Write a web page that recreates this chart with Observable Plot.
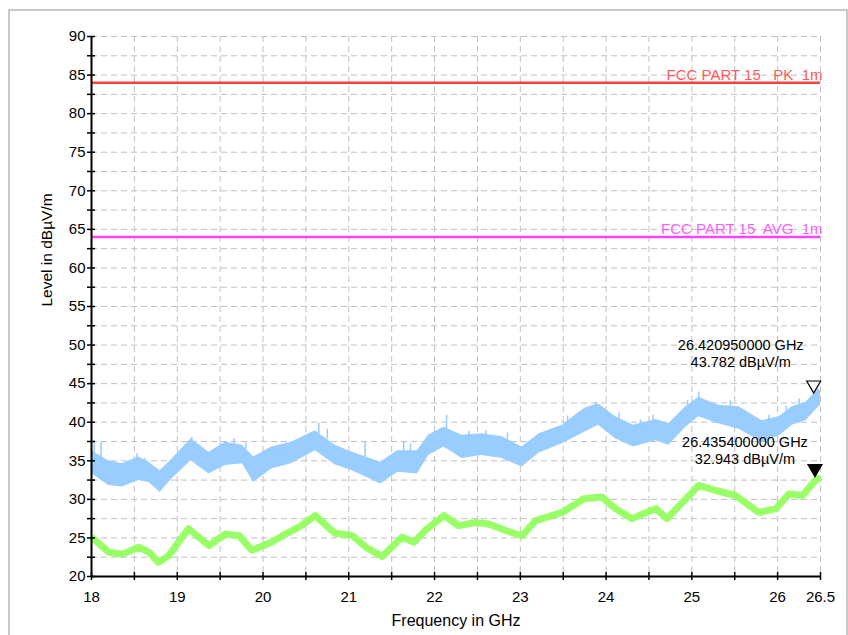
<!DOCTYPE html>
<html><head><meta charset="utf-8">
<script src="https://cdn.jsdelivr.net/npm/d3@7"></script>
<script src="https://cdn.jsdelivr.net/npm/@observablehq/plot@0.6"></script>
<style>
html,body{margin:0;padding:0;background:#fff;}
#frame{position:absolute;left:8px;top:9px;width:836px;height:640px;border:2px solid #c8c8c8;border-bottom:none;}
#chart{position:absolute;left:0;top:0;}
svg text{white-space:pre;}
</style></head><body>
<div id="frame"></div><div id="chart"></div>
<script>
// ---- data ----
const xDomain = [18, 26.5];
const yDomain = [20, 90];
const xGridTicks = [18,18.5,19,19.5,20,20.5,21,21.5,22,22.5,23,23.5,24,24.5,25,25.5,26,26.5];
const xLabelTicks = [18,19,20,21,22,23,24,25,26,26.5];
const yGridTicks = [20,22.5,25,27.5,30,32.5,35,37.5,40,42.5,45,47.5,50,52.5,55,57.5,60,62.5,65,67.5,70,72.5,75,77.5,80,82.5,85,87.5,90];
const yLabelTicks = [20,25,30,35,40,45,50,55,60,65,70,75,80,85,90];
const xTitle = "Frequency in GHz";
const yTitle = "Level in dBµV/m";

// limit lines
const limitNames = ["FCC PART 15   PK  1m", "FCC PART 15  AVG  1m"];
const limitLevels = [84, 64];
const limitColors = ["#ff4040", "#ff44ff"];
const limitTextColors = ["#ff5a5a", "#ff5cff"];

// peak trace (light blue band): frequency, lower and upper envelope
const peakFreq = [18.0,18.2,18.36,18.55,18.67,18.8,18.92,19.16,19.37,19.56,19.76,19.89,20.1,20.33,20.61,20.84,21.04,21.2,21.37,21.57,21.8,21.93,22.11,22.32,22.55,22.79,23.02,23.22,23.49,23.75,23.91,24.11,24.32,24.58,24.73,24.93,25.08,25.31,25.55,25.82,26.02,26.17,26.33,26.48,26.5];
const peakLow  = [33.35,31.8,31.6,32.45,32.2,30.9,32.45,35.0,33.3,34.4,34.6,32.2,33.95,34.6,36.3,34.5,33.7,32.9,32.0,33.5,33.3,35.7,36.8,35.3,35.7,35.3,34.2,36.0,37.2,38.7,39.6,37.85,36.8,37.6,37.0,39.35,40.7,39.8,39.1,37.4,38.2,39.6,40.2,42.0,42.2];
const peakHigh = [36.3,35.0,34.6,35.5,34.8,33.7,35.0,37.85,36.1,37.4,37.0,35.5,36.8,37.4,38.9,37.0,36.1,35.5,34.8,36.3,36.3,38.3,39.35,38.3,38.5,38.1,36.8,38.5,39.6,41.8,42.4,40.7,39.6,40.35,39.8,42.0,43.25,42.2,42.0,40.2,40.7,42.0,42.6,44.35,44.0];

// isolated upward spikes on the peak trace
const spikeFreq = [18.03,18.11,18.53,18.62,19.17,19.5,19.66,19.8,20.2,20.65,20.75,21.19,21.64,21.72,22.14,22.4,22.6,22.85,23.35,23.55,23.65,23.88,24.15,24.4,24.55,24.95,25.08,25.45,25.9,26.1,26.25];
const spikeBase = [36.0,35.5,35.0,34.8,37.5,36.8,36.8,36.5,36.5,38.5,37.8,35.5,36.0,36.0,39.0,38.0,38.2,37.8,38.8,39.8,40.3,41.8,40.3,39.6,40.0,41.8,43.0,42.0,40.0,41.5,42.3];
const spikeTop  = [37.6,37.4,35.9,35.3,38.05,37.3,37.85,37.3,37.0,39.9,39.1,37.4,37.4,37.2,40.9,38.8,38.9,38.6,39.0,40.8,41.0,42.6,41.2,40.3,40.9,42.8,43.9,42.8,40.9,42.0,43.0];

// average trace (green)
const avgFreq = [18.0,18.2,18.36,18.55,18.67,18.78,18.9,19.13,19.37,19.56,19.72,19.87,20.1,20.26,20.42,20.61,20.84,21.04,21.2,21.39,21.62,21.76,21.89,22.11,22.28,22.48,22.63,22.83,23.02,23.18,23.49,23.74,23.95,24.11,24.3,24.58,24.71,24.93,25.08,25.28,25.51,25.78,25.98,26.13,26.29,26.44,26.5];
const avgLevel = [25.1,23.15,22.9,23.8,23.15,21.85,22.7,26.2,24.0,25.5,25.3,23.4,24.45,25.5,26.4,27.9,25.6,25.3,23.8,22.6,25.1,24.45,25.95,27.9,26.6,27.0,26.8,25.95,25.3,27.25,28.3,30.07,30.3,28.8,27.5,28.8,27.5,30.07,31.8,31.15,30.5,28.3,28.8,30.7,30.5,32.45,32.9];

// markers
const markerFreq = [26.42095, 26.4354];
const markerLevel = [43.782, 32.943];
const markerFill = ["#ffffff", "#000000"];

// ---- build tables ----
const limits = limitNames.map((n, i) => ({name: n, level: limitLevels[i], color: limitColors[i], textColor: limitTextColors[i]}));
const peak = peakFreq.map((f, i) => ({f, lo: peakLow[i], hi: peakHigh[i]}));
const spikes = spikeFreq.map((f, i) => ({f, base: spikeBase[i], top: spikeTop[i]}));
const avg = avgFreq.map((f, i) => ({f, v: avgLevel[i]}));
const markers = markerFreq.map((f, i) => ({f, v: markerLevel[i], fill: markerFill[i],
  label: f.toFixed(9) + " GHz\n" + markerLevel[i].toFixed(3) + " dBµV/m"}));

const gridStyle = {stroke: "#c0c0c0", strokeOpacity: 1, strokeDasharray: "6,4", strokeWidth: 1};

const chart = Plot.plot({
  width: 848, height: 635,
  marginLeft: 91, marginRight: 28, marginTop: 36, marginBottom: 59,
  x: {domain: xDomain},
  y: {domain: yDomain},
  style: {fontFamily: "'Liberation Sans', Arial, sans-serif", fontSize: "15px", background: "transparent", color: "#000"},
  marks: [
    Plot.gridX(xGridTicks, gridStyle),
    Plot.gridY(yGridTicks, gridStyle),
    Plot.ruleY(limits, {y: "level", stroke: "color", strokeWidth: 2.5}),
    Plot.text(limits, {x: () => xDomain[1], y: "level", text: "name", fill: "textColor", textAnchor: "end", lineAnchor: "bottom", dx: 2, dy: -3, fontSize: 15}),
    Plot.areaY(peak, {x: "f", y1: "lo", y2: "hi", fill: "#99ccff", fillOpacity: 1}),
    Plot.ruleX(spikes, {x: "f", y1: "base", y2: "top", stroke: "#99ccff", strokeWidth: 1.5}),
    Plot.line(avg, {x: "f", y: "v", stroke: "#99ff66", strokeWidth: 7, strokeLinejoin: "round", strokeLinecap: "butt"}),
    Plot.ruleX([xDomain[0]], {stroke: "#000", strokeWidth: 2}),
    Plot.ruleY([yDomain[0]], {stroke: "#000", strokeWidth: 2}),
    Plot.axisX(xGridTicks, {tickSize: 8, dy: -4, tickFormat: () => "", label: null, strokeWidth: 1.5}),
    Plot.axisX(xLabelTicks, {tickSize: 0, tickPadding: 15, label: null, tickFormat: d => String(d), fontSize: 15}),
    Plot.axisY(yGridTicks, {tickSize: 8, dx: 4, tickFormat: () => "", label: null, strokeWidth: 1.5}),
    Plot.axisY(yLabelTicks, {tickSize: 0, tickPadding: 6, label: null, fontSize: 15}),
    Plot.text([xTitle], {frameAnchor: "bottom", dy: 49, fontSize: 16}),
    Plot.text([yTitle], {frameAnchor: "left", rotate: -90, dx: -44, fontSize: 15.5}),
    Plot.dot(markers, {x: "f", y: "v", symbol: "triangle", rotate: 180, r: 5.2, fill: "fill", stroke: "#000", strokeWidth: 1.2, dy: -8}),
    Plot.text([markers[0]], {x: "f", y: "v", text: "label", lineAnchor: "middle", lineHeight: 1.2, dx: -73, dy: -40, fontSize: 14.5}),
    Plot.text([markers[1]], {x: "f", y: "v", text: "label", lineAnchor: "middle", lineHeight: 1.2, dx: -70, dy: -27, fontSize: 14.5})
  ]
});
document.getElementById("chart").appendChild(chart);
</script></body></html>
